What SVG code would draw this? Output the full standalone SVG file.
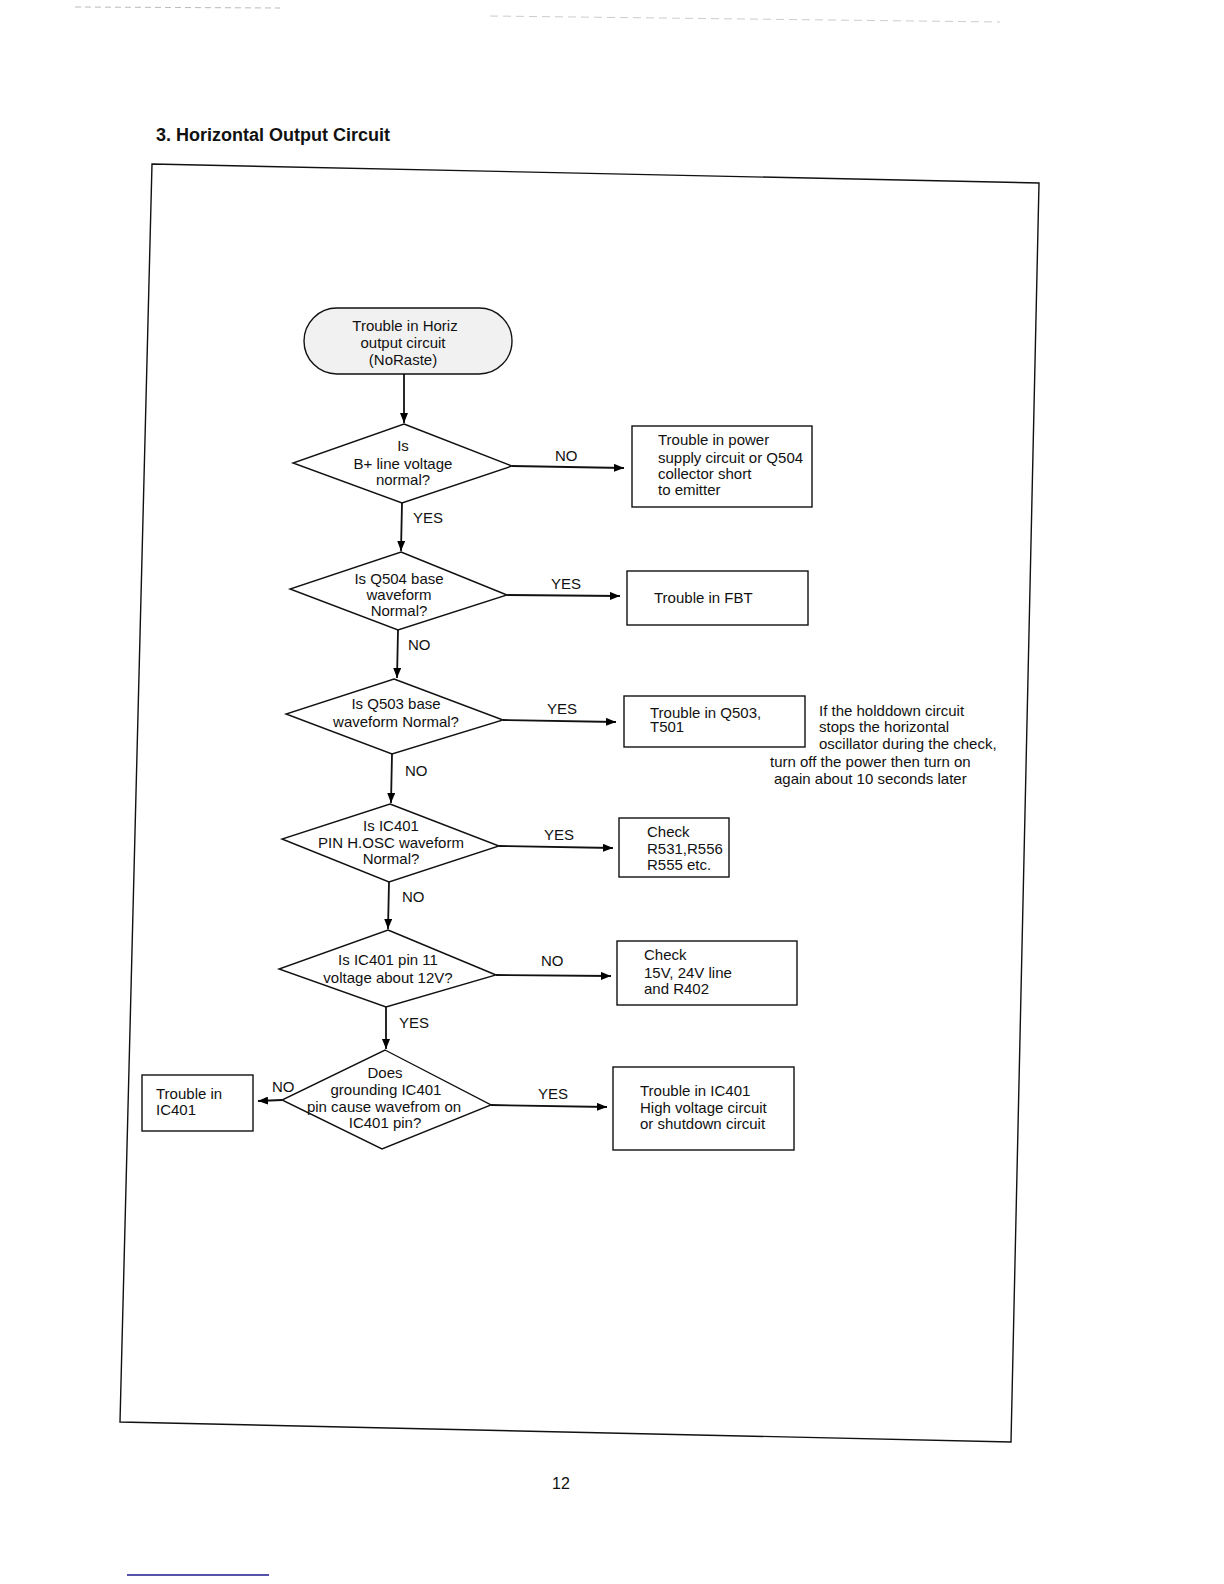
<svg xmlns="http://www.w3.org/2000/svg" width="1224" height="1584" viewBox="0 0 1224 1584">
<defs>
<marker id="arr" viewBox="0 0 10 8" refX="10" refY="4" markerWidth="10" markerHeight="8" markerUnits="userSpaceOnUse" orient="auto">
<path d="M0,0 L10,4 L0,8 Z" fill="#000"/>
</marker>
<style>
text{font-family:"Liberation Sans",Arial,sans-serif;font-size:15px;fill:#111}
.c{text-anchor:middle}
.shape{fill:#fff;stroke:#111;stroke-width:1.4}
.term{fill:#f1f1f1;stroke:#111;stroke-width:1.4}
.ln{fill:none;stroke:#111;stroke-width:1.8}
.ar{fill:none;stroke:#111;stroke-width:1.8;marker-end:url(#arr)}
.title{font-size:18px;font-weight:bold}
</style>
</defs>
<rect width="1224" height="1584" fill="#fff"/>
<g id="scan-marks">
<line x1="75" y1="7" x2="280" y2="8" stroke="#bbb" stroke-width="1" stroke-dasharray="6,4"/>
<line x1="490" y1="16" x2="1000" y2="22" stroke="#ccc" stroke-width="1" stroke-dasharray="8,5"/>
<line x1="127" y1="1575" x2="269" y2="1575" stroke="#1a1a8c" stroke-width="1.5"/>
</g>
<text class="title" x="156" y="141">3. Horizontal Output Circuit</text>
<polygon id="frame" points="152,164 1039,183 1011,1442 120,1422" fill="none" stroke="#111" stroke-width="1.4"/>

<g id="connectors">
<line class="ar" x1="404" y1="374" x2="404" y2="423"/>
<line class="ar" x1="512" y1="466" x2="624" y2="468"/>
<text x="555" y="461">NO</text>
<line class="ar" x1="402" y1="503" x2="401" y2="551"/>
<text x="413" y="523">YES</text>
<line class="ar" x1="507" y1="595" x2="620" y2="596"/>
<text x="551" y="589">YES</text>
<line class="ar" x1="398" y1="630" x2="397" y2="678"/>
<text x="408" y="650">NO</text>
<line class="ar" x1="503" y1="720" x2="616" y2="722"/>
<text x="547" y="714">YES</text>
<line class="ar" x1="392" y1="754" x2="391" y2="803"/>
<text x="405" y="776">NO</text>
<line class="ar" x1="499" y1="846" x2="613" y2="848"/>
<text x="544" y="840">YES</text>
<line class="ar" x1="389" y1="882" x2="388" y2="929"/>
<text x="402" y="902">NO</text>
<line class="ar" x1="496" y1="975" x2="611" y2="976"/>
<text x="541" y="966">NO</text>
<line class="ar" x1="386" y1="1007" x2="386" y2="1049"/>
<text x="399" y="1028">YES</text>
<line class="ar" x1="491" y1="1105" x2="607" y2="1107"/>
<text x="538" y="1099">YES</text>
<line class="ar" x1="282" y1="1100" x2="258" y2="1101"/>
<text x="272" y="1092">NO</text>
</g>

<g id="start">
<rect class="term" x="304" y="308" width="208" height="66" rx="33" ry="33"/>
<text class="c" x="405" y="331">Trouble in Horiz</text>
<text class="c" x="403" y="348">output circuit</text>
<text class="c" x="403" y="365">(NoRaste)</text>
</g>

<g id="q1">
<polygon class="shape" points="404,424 512,466 402,503 293,463"/>
<text class="c" x="403" y="451">Is</text>
<text class="c" x="403" y="469">B+ line voltage</text>
<text class="c" x="403" y="485">normal?</text>
</g>
<g id="r1">
<rect class="shape" x="632" y="426" width="180" height="81"/>
<text x="658" y="445">Trouble in power</text>
<text x="658" y="463">supply circuit or Q504</text>
<text x="658" y="479">collector short</text>
<text x="658" y="495">to emitter</text>
</g>

<g id="q2">
<polygon class="shape" points="401,552 507,595 398,630 290,589"/>
<text class="c" x="399" y="584">Is Q504 base</text>
<text class="c" x="399" y="600">waveform</text>
<text class="c" x="399" y="616">Normal?</text>
</g>
<g id="r2">
<rect class="shape" x="627" y="571" width="181" height="54"/>
<text x="654" y="603">Trouble in FBT</text>
</g>

<g id="q3">
<polygon class="shape" points="394,679 503,720 392,754 286,714"/>
<text class="c" x="396" y="709">Is Q503 base</text>
<text class="c" x="396" y="727">waveform Normal?</text>
</g>
<g id="r3">
<rect class="shape" x="624" y="696" width="181" height="51"/>
<text x="650" y="718">Trouble in Q503,</text>
<text x="650" y="732">T501</text>
</g>
<g id="note">
<text x="819" y="716">If the holddown circuit</text>
<text x="819" y="732">stops the horizontal</text>
<text x="819" y="749">oscillator during the check,</text>
<text x="770" y="767">turn off the power then turn on</text>
<text x="774" y="784">again about 10 seconds later</text>
</g>

<g id="q4">
<polygon class="shape" points="390,804 499,846 389,882 282,839"/>
<text class="c" x="391" y="831">Is IC401</text>
<text class="c" x="391" y="848">PIN H.OSC waveform</text>
<text class="c" x="391" y="864">Normal?</text>
</g>
<g id="r4">
<rect class="shape" x="619" y="818" width="110" height="59"/>
<text x="647" y="837">Check</text>
<text x="647" y="854">R531,R556</text>
<text x="647" y="870">R555 etc.</text>
</g>

<g id="q5">
<polygon class="shape" points="388,930 496,975 386,1007 279,969"/>
<text class="c" x="388" y="965">Is IC401 pin 11</text>
<text class="c" x="388" y="983">voltage about 12V?</text>
</g>
<g id="r5">
<rect class="shape" x="617" y="941" width="180" height="64"/>
<text x="644" y="960">Check</text>
<text x="644" y="978">15V, 24V line</text>
<text x="644" y="994">and R402</text>
</g>

<g id="q6">
<polygon class="shape" points="385,1050 491,1105 382,1149 282,1100"/>
<text class="c" x="385" y="1078">Does</text>
<text class="c" x="386" y="1095">grounding IC401</text>
<text class="c" x="384" y="1112">pin cause wavefrom on</text>
<text class="c" x="385" y="1128">IC401 pin?</text>
</g>
<g id="r6">
<rect class="shape" x="613" y="1067" width="181" height="83"/>
<text x="640" y="1096">Trouble in IC401</text>
<text x="640" y="1113">High voltage circuit</text>
<text x="640" y="1129">or shutdown circuit</text>
</g>
<g id="r7">
<rect class="shape" x="142" y="1075" width="111" height="56"/>
<text x="156" y="1099">Trouble in</text>
<text x="156" y="1115">IC401</text>
</g>

<text class="c" x="561" y="1489" style="font-size:16px">12</text>
</svg>
